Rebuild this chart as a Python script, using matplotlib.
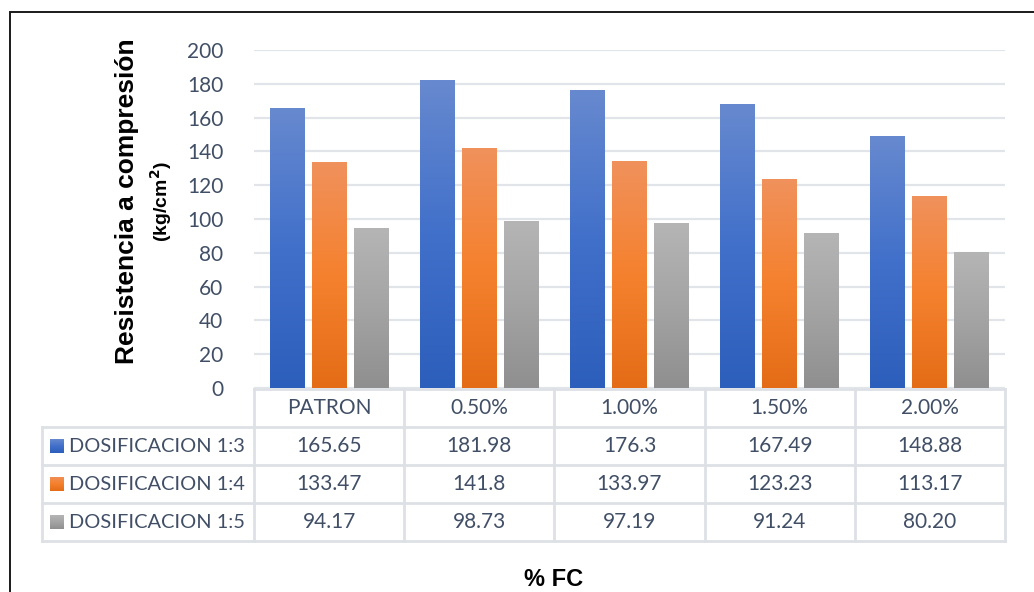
import numpy as np
import matplotlib
matplotlib.use("Agg")
import matplotlib.pyplot as plt
from matplotlib.colors import LinearSegmentedColormap
from matplotlib.transforms import blended_transform_factory
from matplotlib.patches import Rectangle

# ---- data ----
categories = ["PATRON", "0.50%", "1.00%", "1.50%", "2.00%"]
series_names = ["DOSIFICACION 1:3", "DOSIFICACION 1:4", "DOSIFICACION 1:5"]
dos_13 = [165.65, 181.98, 176.3, 167.49, 148.88]
dos_14 = [133.47, 141.8, 133.97, 123.23, 113.17]
dos_15 = [94.17, 98.73, 97.19, 91.24, 80.20]
table_text_13 = ["165.65", "181.98", "176.3", "167.49", "148.88"]
table_text_14 = ["133.47", "141.8", "133.97", "123.23", "113.17"]
table_text_15 = ["94.17", "98.73", "97.19", "91.24", "80.20"]
y_ticks = [0, 20, 40, 60, 80, 100, 120, 140, 160, 180, 200]

series = [dos_13, dos_14, dos_15]
series_text = [table_text_13, table_text_14, table_text_15]

# vertical gradients (bottom -> top)
gradients = [
    ["#2C5EBB", "#4170CA", "#6789CF"],
    ["#E46C17", "#F5812E", "#F0915C"],
    ["#8F8F8F", "#A4A4A4", "#B5B5B5"],
]
cmaps = [LinearSegmentedColormap.from_list(f"g{i}", g) for i, g in enumerate(gradients)]

TEXT = "#414F66"
GRID = "#E1E4E8"
LINE = "#DDE1E6"
BODY_FONT = "Lato"
LABEL_FONT = "Liberation Sans"
BODY_SIZE = 15
NAME_SIZE = 14.4

W, H = 1034, 592
fig = plt.figure(figsize=(W / 100, H / 100), dpi=100)
fig.patch.set_facecolor("white")

# plot area in pixels: left 254, right 1005, top 50, bottom 388
L, R, T, B = 254, 1005, 50, 388
ax = fig.add_axes([L / W, (H - B) / H, (R - L) / W, (B - T) / H])
ax.set_facecolor("none")

n = len(categories)
x = np.arange(n)
width = 0.233
step = 0.28
offsets = [-step, 0.0, step]

grad = np.linspace(0, 1, 256).reshape(-1, 1)
for s, vals in enumerate(series):
    bars = ax.bar(x + offsets[s], vals, width, color="none", zorder=3)
    for b in bars:
        x0, x1 = b.get_x(), b.get_x() + b.get_width()
        ax.imshow(grad, extent=[x0, x1, 0, b.get_height()], origin="lower",
                  cmap=cmaps[s], aspect="auto", zorder=3, interpolation="bilinear")

ax.set_xlim(-0.5, n - 0.5)
ax.set_ylim(0, 200)
ax.set_yticks(y_ticks)
ax.set_yticklabels([str(t) for t in y_ticks], fontfamily=BODY_FONT, fontsize=BODY_SIZE, color=TEXT)
ax.tick_params(axis="y", length=0, pad=22)
ax.set_xticks([])
for sp in ax.spines.values():
    sp.set_visible(False)
ax.yaxis.grid(True, color=GRID, linewidth=1.6, zorder=0)
ax.set_axisbelow(True)

# ---- data table under the axis ----
tr = blended_transform_factory(ax.transData, ax.transAxes)
ppx = n / (R - L)             # data units per pixel
ppy = 1.0 / (B - T)           # axes fraction per pixel
left_edge = -0.5 - (L - 42) * ppx
right_edge = n - 0.5
row_px = [389, 427, 465, 503, 541]
row_y = [(B - py) * ppy for py in row_px]

kw = dict(transform=tr, clip_on=False, color=LINE, linewidth=2.0, zorder=2)
ax.plot([-0.5, right_edge], [row_y[0], row_y[0]], **kw)
for yy in row_y[1:]:
    ax.plot([left_edge, right_edge], [yy, yy], **kw)
for i in range(n + 1):
    ax.plot([i - 0.5, i - 0.5], [row_y[0], row_y[-1]], **kw)
ax.plot([left_edge, left_edge], [row_y[1], row_y[-1]], **kw)


def mid(r):
    return (row_y[r] + row_y[r + 1]) / 2


for i, c in enumerate(categories):
    ax.text(i, mid(0), c, transform=tr, ha="center", va="center",
            fontfamily=BODY_FONT, fontsize=BODY_SIZE, color=TEXT, clip_on=False)

for s in range(len(series)):
    ym = mid(s + 1)
    for i, t in enumerate(series_text[s]):
        ax.text(i, ym, t, transform=tr, ha="center", va="center",
                fontfamily=BODY_FONT, fontsize=BODY_SIZE, color=TEXT, clip_on=False)
    # legend key with the series gradient
    key_center = (row_px[s + 1] + row_px[s + 2]) / 2
    kax = fig.add_axes([50 / W, (H - key_center - 7) / H, 14 / W, 14 / H])
    kax.imshow(grad, origin="lower", cmap=cmaps[s], aspect="auto", extent=[0, 1, 0, 1])
    kax.set_axis_off()
    ax.text(left_edge + 27 * ppx, ym, series_names[s], transform=tr, ha="left", va="center",
            fontfamily=BODY_FONT, fontsize=NAME_SIZE, color=TEXT, clip_on=False)

# ---- axis titles ----
fig.text(127 / W, 1 - 201 / H, "Resistencia a compresión", rotation=90, ha="center", va="center",
         fontfamily=LABEL_FONT, fontweight="bold", fontsize=19, color="black")
fig.text(161 / W, 1 - 202 / H, "(kg/cm$^{\\mathbf{2}}$)", rotation=90, ha="center", va="center",
         fontfamily=LABEL_FONT, fontweight="bold", fontsize=14, color="black")
fig.text(554 / W, 1 - 579 / H, "% FC", ha="center", va="center",
         fontfamily=LABEL_FONT, fontweight="bold", fontsize=17, color="black")

# outer frame of the chart
fig.add_artist(Rectangle((10 / W, -0.05), 1.2, (H - 12) / H + 0.05, transform=fig.transFigure,
                         fill=False, edgecolor="#1A1A1A", linewidth=1.4))

fig.savefig("out.png", dpi=100, facecolor="white")
